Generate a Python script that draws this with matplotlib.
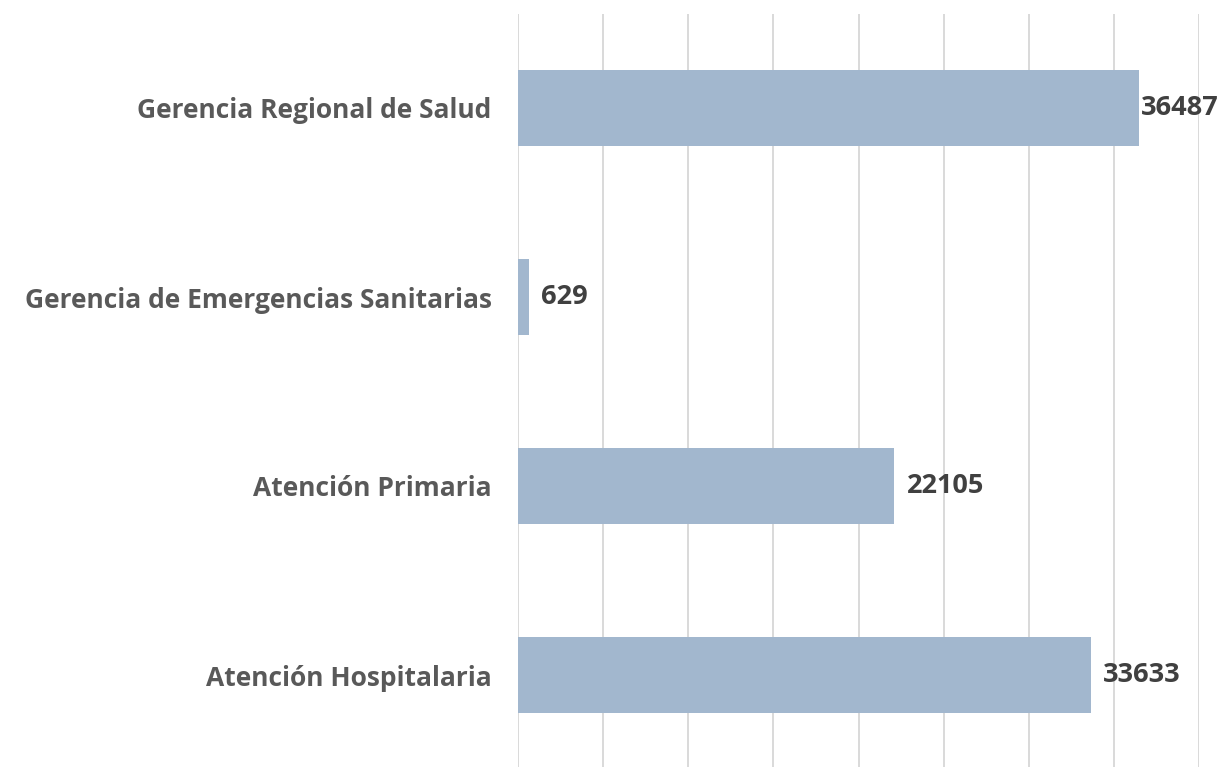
import matplotlib
matplotlib.use("Agg")
import matplotlib.pyplot as plt
from matplotlib.ticker import MultipleLocator

categories = ["Gerencia Regional de Salud", "Gerencia de Emergencias Sanitarias",
              "Atención Primaria", "Atención Hospitalaria"]
values = [36487, 629, 22105, 33633]

plt.rcParams['font.family'] = ['Open Sans', 'DejaVu Sans']

fig = plt.figure(figsize=(12.23, 7.67), dpi=100)
W, H = 1223, 767
ax = fig.add_axes([518 / W, (767 - 769.5) / H, (1199 - 518) / W, (769.5 - 13.5) / H])

y = list(range(len(categories)))
ax.barh(y, values, height=0.40, color="#A2B7CE", zorder=2)
ax.set_ylim(len(categories) - 0.5, -0.5)
ax.set_xlim(0, 40000)
ax.xaxis.set_major_locator(MultipleLocator(5000))
ax.grid(axis="x", color="#D9D9D9", linewidth=1.4, zorder=0)
ax.set_axisbelow(True)
for s in ax.spines.values():
    s.set_visible(False)
ax.tick_params(axis="x", length=0, labelbottom=False)
ax.tick_params(axis="y", length=0, pad=19)
ax.set_yticks(y)
ax.set_yticklabels(categories, fontsize=19, fontweight="bold", color="#595959")

for yi, v in zip(y, values):
    off = 9 if v < 35000 else 1
    ax.annotate(str(v), xy=(v, yi), xytext=(off, 0), textcoords="offset points",
                ha="left", va="center", fontsize=19.5, fontweight="bold",
                color="#404040", annotation_clip=False)

fig.savefig("out.png", dpi=100)
